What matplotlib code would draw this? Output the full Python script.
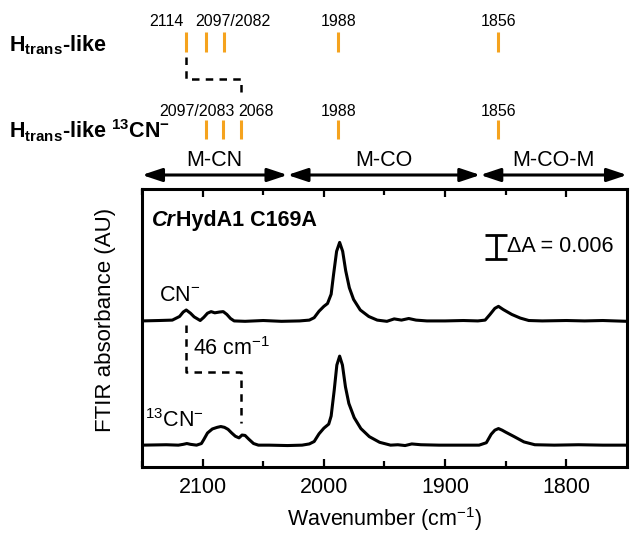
import matplotlib as mpl

mpl.use("Agg")

import matplotlib.pyplot as plt
import matplotlib.transforms as mtransforms

mpl.rcParams.update(
    {
        "font.family": "sans-serif",
        "font.sans-serif": ["Liberation Sans", "DejaVu Sans"],
        "mathtext.fontset": "custom",
        "mathtext.rm": "Liberation Sans",
        "mathtext.it": "Liberation Sans:italic",
        "mathtext.bf": "Liberation Sans:bold",
        "mathtext.sf": "Liberation Sans",
    }
)

# spectra: wavenumber (cm-1) and baseline-subtracted absorbance (AU)
wn_native = [2150, 2136, 2125, 2119, 2116, 2113.5, 2110, 2107, 2102, 2099, 2096, 2093, 2090,
             2086, 2083, 2080, 2077, 2074, 2065, 2050, 2035, 2020, 2012, 2008, 2004, 2000,
             1997, 1994, 1992, 1989.5, 1987, 1984.5, 1982, 1979, 1975.5, 1970, 1963, 1956,
             1948, 1942, 1936, 1930, 1924, 1915, 1900, 1885, 1873, 1867, 1863, 1859, 1856,
             1852, 1845, 1838, 1831, 1820, 1800, 1785, 1770, 1750]
abs_native = [0.0, 0.0001, 0.0002, 0.0011, 0.0022, 0.0027, 0.0019, 0.0010, 0.0001, 0.0009,
              0.0019, 0.0023, 0.0020, 0.0022, 0.0023, 0.0016, 0.0006, 0.0, -0.0001, 0.0001,
              -0.0001, 0.0, 0.0002, 0.0008, 0.0024, 0.0036, 0.0043, 0.0066, 0.0115, 0.0172,
              0.0194, 0.0172, 0.0124, 0.0082, 0.0053, 0.0027, 0.0011, 0.0002, -0.0001, 0.0005,
              0.0002, 0.0006, 0.0002, 0.0, 0.0, 0.0001, 0.0, 0.0002, 0.0016, 0.0031, 0.0036,
              0.0028, 0.0016, 0.0007, 0.0001, 0.0, 0.0001, 0.0, 0.0001, -0.0001]

wn_13cn = [2150, 2130, 2120, 2116, 2113, 2110, 2105, 2101, 2099, 2096, 2092, 2088, 2085, 2082,
           2079, 2076, 2073, 2070, 2067.5, 2065, 2062, 2058, 2054, 2045, 2030, 2018, 2012,
           2008, 2004, 2000, 1996, 1994, 1991.5, 1989.3, 1987, 1984.7, 1982.2, 1979.4, 1975,
           1969.5, 1962.5, 1954, 1945, 1939, 1933, 1927.5, 1920, 1905, 1885, 1872, 1866,
           1862, 1859, 1856, 1853, 1850, 1843, 1835, 1826, 1810, 1790, 1770, 1750]
abs_13cn = [0.0, 0.0001, 0.0, 0.0002, 0.0004, 0.0002, 0.0, 0.0004, 0.0014, 0.0030, 0.0040,
            0.0044, 0.0046, 0.0044, 0.0039, 0.0030, 0.0022, 0.0018, 0.0025, 0.0024, 0.0015,
            0.0004, 0.0, 0.0, -0.0001, 0.0, 0.0003, 0.0009, 0.0028, 0.0042, 0.0052, 0.0072,
            0.0135, 0.0198, 0.0220, 0.0198, 0.0144, 0.0103, 0.0068, 0.0041, 0.0021, 0.0007,
            0.0, 0.0001, -0.0001, 0.0003, 0.0001, 0.0, 0.0, 0.0, 0.0006, 0.0027, 0.0037,
            0.0041, 0.0037, 0.0032, 0.0021, 0.0008, 0.0001, 0.0, 0.0001, 0.0, 0.0]

offset_native = 0.0361
offset_13cn = 0.0054

# band assignments shown above the spectra
bands_native = [2114, 2097, 2082, 1988, 1856]
bands_13cn = [2097, 2083, 2068, 1988, 1856]
regions = [("M-CN", 2150, 2030), ("M-CO", 2030, 1871), ("M-CO-M", 1871, 1750)]
cn_shift = (2114, 2068)

ORANGE = "#F5A31E"
FS = 15.5

fig = plt.figure(figsize=(6.3, 5.33), dpi=100)
left, width = 142 / 630, 485 / 630
ax = fig.add_axes([left, 66 / 533, width, 278 / 533])
ax_top = fig.add_axes([left, 344 / 533, width, 189 / 533])

# ---- spectra panel
ax.plot(wn_native, [a + offset_native for a in abs_native], color="black", lw=2.2)
ax.plot(wn_13cn, [a + offset_13cn for a in abs_13cn], color="black", lw=2.2)
ax.set_xlim(2150, 1750)
ax.set_ylim(0, 0.0687)
ax.set_xticks([2100, 2000, 1900, 1800])
ax.set_xticks([2150, 2050, 1950, 1850], minor=True)
ax.set_yticks([])
ax.tick_params(axis="x", which="both", direction="in", top=True, width=1.6,
               labelsize=FS, pad=7)
ax.tick_params(axis="x", which="major", length=6)
ax.tick_params(axis="x", which="minor", length=4)
for sp in ax.spines.values():
    sp.set_linewidth(2.2)
ax.set_xlabel("Wavenumber (cm$^{-1}$)", fontsize=FS, labelpad=5)
ax.set_ylabel("FTIR absorbance (AU)", fontsize=FS + 0.5)
ax.yaxis.set_label_coords(-0.054, 0.53)

t1 = ax.text(2142, 0.061, "Cr", fontsize=FS, fontweight="bold", fontstyle="italic", va="center")
ax.annotate("HydA1 C169A", xy=(1, 0.5), xycoords=t1, va="center", fontsize=FS,
            fontweight="bold")

ax.errorbar(1858, 0.0543, yerr=0.003, color="black", capsize=8, elinewidth=2, capthick=2)
ax.text(1849, 0.0546, "ΔA = 0.006", fontsize=FS, va="center")

ax.text(2119, 0.0425, "CN$^{-}$", fontsize=FS, ha="center", va="center")
ax.text(2123, 0.0116, "$^{13}$CN$^{-}$", fontsize=FS, ha="center", va="center")
ax.plot([cn_shift[0], cn_shift[0], cn_shift[1], cn_shift[1]],
        [0.0351, 0.0235, 0.0235, 0.0109], color="black", lw=1.8, ls=(0, (3, 2.5)))
ax.text(2108, 0.0292, "46 cm$^{-1}$", fontsize=FS, va="center")

# ---- band stick diagram
ax_top.set_xlim(2150, 1750)
ax_top.set_ylim(189, 0)
ax_top.axis("off")
ax_top.vlines(bands_native, 32, 52, color=ORANGE, lw=2.2)
ax_top.vlines(bands_13cn, 120, 139, color=ORANGE, lw=2.2)

num = dict(fontsize=11.5, va="center")
ax_top.text(2116, 21, "2114", ha="right", **num)
ax_top.text(2106, 21, "2097/2082", ha="left", **num)
ax_top.text(2074, 112, "2097/2083", ha="right", **num)
ax_top.text(2071, 112, "2068", ha="left", **num)
for b in bands_native[3:]:
    ax_top.text(b, 21, str(b), ha="center", **num)
for b in bands_13cn[3:]:
    ax_top.text(b, 112, str(b), ha="center", **num)

ax_top.plot([cn_shift[0], cn_shift[0], cn_shift[1], cn_shift[1]], [57, 79, 79, 97],
            color="black", lw=1.8, ls=(0, (3, 2.5)))

for name, x0, x1 in regions:
    ax_top.annotate("", xy=(x1, 175), xytext=(x0, 175),
                    arrowprops=dict(arrowstyle="<|-|>,head_length=0.6,head_width=0.2",
                                    color="black", lw=2.2, mutation_scale=20,
                                    shrinkA=0, shrinkB=0))
    ax_top.text((x0 + x1) / 2, 160, name, fontsize=FS, ha="center", va="center")

trans = mtransforms.blended_transform_factory(fig.transFigure, ax_top.transData)
ax_top.text(9 / 630, 45, r"$\mathbf{H_{trans}}$-like", transform=trans, fontsize=FS,
            fontweight="bold", va="center", clip_on=False)
ax_top.text(9 / 630, 131, r"$\mathbf{H_{trans}}$-like $\mathbf{^{13}CN^{-}}$", transform=trans,
            fontsize=FS, fontweight="bold", va="center", clip_on=False)

fig.savefig("out.png", dpi=100)
